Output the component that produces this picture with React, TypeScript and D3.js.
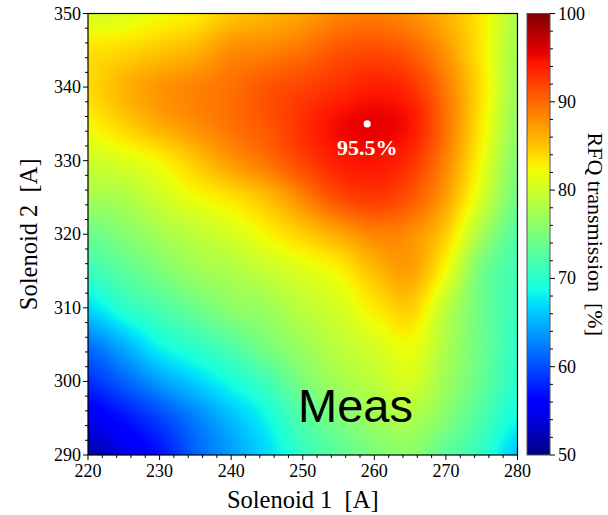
import React, { useMemo } from 'react';
import * as d3 from 'd3';

const solenoid1 = [220, 225, 230, 235, 240, 245, 250, 255, 260, 265, 270, 275, 280];
const solenoid2 = [350, 345, 340, 335, 330, 325, 320, 315, 310, 305, 300, 295, 290];
const transmission = [
  [80.5, 81, 82, 83, 85, 86, 87, 88.5, 89, 88, 86, 83, 78],
  [83.5, 84, 85, 86, 88, 88.5, 89.5, 91, 91.5, 90.5, 87.5, 83, 77.5],
  [84, 86, 87.5, 88.5, 89.5, 91, 92, 93, 94, 93, 89, 83.5, 77],
  [82.5, 84.5, 86.5, 88, 89.5, 91, 93, 95, 95.5, 94.5, 89.5, 83, 76.5],
  [80, 81, 82.5, 85, 87.5, 89.5, 92, 94, 94.5, 93, 88.5, 82, 75.5],
  [77.5, 78, 80, 82, 83.5, 85.5, 88.5, 91.5, 92.5, 91, 87, 80.5, 74.5],
  [74, 75.5, 77.5, 79, 80.5, 82.5, 84.5, 86.5, 88.5, 88, 84.5, 77.5, 72.5],
  [71, 73, 75, 77, 78, 79.5, 81, 82.5, 85.5, 87, 82, 74.5, 71.5],
  [67, 70, 72, 74, 76, 77, 79, 80.5, 83, 84.5, 79, 74, 71],
  [62, 65, 68.5, 70.5, 72.5, 75, 77, 79, 80.5, 82, 78, 74, 70.5],
  [58.5, 61, 64, 66.5, 69, 71.5, 75, 77.5, 79, 80.5, 77, 73.5, 70],
  [55, 57, 59.5, 62.5, 65.5, 68.5, 72.5, 75, 77, 78, 75.5, 72, 68.5],
  [52, 54.5, 57, 61, 64, 67, 70.5, 73, 75, 76, 73, 70.5, 66],
];

const xTicks = [220, 230, 240, 250, 260, 270, 280];
const yTicks = [290, 300, 310, 320, 330, 340, 350];
const cbTicks = [50, 60, 70, 80, 90, 100];
const peakS1 = 259;
const peakS2 = 335;
const peakLabel = '95.5%';

const W = 608;
const H = 515;
const plot = { left: 88, right: 517.5, top: 13.5, bottom: 455 };
const cb = { left: 527, right: 550 };

// matplotlib jet
const jetR = d3.scaleLinear().domain([0, 0.35, 0.66, 0.89, 1]).range([0, 0, 1, 1, 0.5]).clamp(true);
const jetG = d3.scaleLinear().domain([0, 0.125, 0.375, 0.64, 0.91, 1]).range([0, 0, 1, 1, 0, 0]).clamp(true);
const jetB = d3.scaleLinear().domain([0, 0.11, 0.34, 0.65, 1]).range([0.5, 1, 1, 0, 0]).clamp(true);
const jet = (t: number): [number, number, number] => [
  Math.round(255 * jetR(t)),
  Math.round(255 * jetG(t)),
  Math.round(255 * jetB(t)),
];

function cubic(p0: number, p1: number, p2: number, p3: number, t: number) {
  return (
    p1 +
    0.5 * t * (p2 - p0 + t * (2 * p0 - 5 * p1 + 4 * p2 - p3 + t * (3 * (p1 - p2) + p3 - p0)))
  );
}

function sample(fx: number, fy: number) {
  const nx = solenoid1.length;
  const ny = solenoid2.length;
  const ix = Math.min(Math.max(Math.floor(fx), 0), nx - 2);
  const iy = Math.min(Math.max(Math.floor(fy), 0), ny - 2);
  const tx = fx - ix;
  const ty = fy - iy;
  const g = (r: number, c: number) =>
    transmission[Math.min(Math.max(r, 0), ny - 1)][Math.min(Math.max(c, 0), nx - 1)];
  const rows = [-1, 0, 1, 2].map((dr) =>
    cubic(g(iy + dr, ix - 1), g(iy + dr, ix), g(iy + dr, ix + 1), g(iy + dr, ix + 2), tx)
  );
  return cubic(rows[0], rows[1], rows[2], rows[3], ty);
}

export default function App() {
  const x = d3.scaleLinear().domain([220, 280]).range([plot.left, plot.right]);
  const y = d3.scaleLinear().domain([290, 350]).range([plot.bottom, plot.top]);
  const c = d3.scaleLinear().domain([50, 100]).range([plot.bottom, plot.top]);
  const tNorm = d3.scaleLinear().domain([50, 100]).range([0, 1]).clamp(true);

  const heatUrl = useMemo(() => {
    const pw = Math.round(plot.right - plot.left);
    const ph = Math.round(plot.bottom - plot.top);
    const canvas = document.createElement('canvas');
    canvas.width = pw;
    canvas.height = ph;
    const ctx = canvas.getContext('2d');
    if (!ctx) return '';
    const img = ctx.createImageData(pw, ph);
    const s1Step = solenoid1[1] - solenoid1[0];
    const s2Step = solenoid2[0] - solenoid2[1];
    for (let j = 0; j < ph; j++) {
      const yv = y.invert(plot.top + ((j + 0.5) * (plot.bottom - plot.top)) / ph);
      const fy = (solenoid2[0] - yv) / s2Step;
      for (let i = 0; i < pw; i++) {
        const xv = x.invert(plot.left + ((i + 0.5) * (plot.right - plot.left)) / pw);
        const fx = (xv - solenoid1[0]) / s1Step;
        const v = sample(fx, fy);
        const [r, g, b] = jet(tNorm(v));
        const k = (j * pw + i) * 4;
        img.data[k] = r;
        img.data[k + 1] = g;
        img.data[k + 2] = b;
        img.data[k + 3] = 255;
      }
    }
    ctx.putImageData(img, 0, 0);
    return canvas.toDataURL();
  }, []);

  const cbStops = d3.range(0, 101).map((i) => {
    const [r, g, b] = jet(i / 100);
    return { off: i, col: `rgb(${r},${g},${b})` };
  });

  const xMinor = d3.range(220, 281, 2).filter((v) => v % 10 !== 0);
  const yMinor = d3.range(290, 351, 2).filter((v) => v % 10 !== 0);
  const cMinor = d3.range(50, 101, 2).filter((v) => v % 10 !== 0);

  const serif = '"Liberation Serif", "DejaVu Serif", serif';

  return (
    <svg
      width={W}
      height={H}
      style={{ position: 'absolute', left: 0, top: 0, background: '#fff' }}
      fontFamily={serif}
    >
      <defs>
        <linearGradient id="cbgrad" x1="0" y1="1" x2="0" y2="0">
          {cbStops.map((s) => (
            <stop key={s.off} offset={`${s.off}%`} stopColor={s.col} />
          ))}
        </linearGradient>
      </defs>
      <image
        href={heatUrl}
        x={plot.left}
        y={plot.top}
        width={plot.right - plot.left}
        height={plot.bottom - plot.top}
        preserveAspectRatio="none"
      />
      <rect
        x={plot.left}
        y={plot.top}
        width={plot.right - plot.left}
        height={plot.bottom - plot.top}
        fill="none"
        stroke="#000"
        strokeWidth={1.2}
      />
      {/* x ticks */}
      {xTicks.map((v) => (
        <g key={`xt${v}`}>
          <line x1={x(v)} x2={x(v)} y1={plot.bottom} y2={plot.bottom + 5} stroke="#000" />
          <text x={x(v)} y={plot.bottom + 22} textAnchor="middle" fontSize={18}>
            {v}
          </text>
        </g>
      ))}
      {xMinor.map((v) => (
        <line key={`xm${v}`} x1={x(v)} x2={x(v)} y1={plot.bottom} y2={plot.bottom + 3} stroke="#000" />
      ))}
      {/* y ticks */}
      {yTicks.map((v) => (
        <g key={`yt${v}`}>
          <line x1={plot.left - 5} x2={plot.left} y1={y(v)} y2={y(v)} stroke="#000" />
          <text x={plot.left - 7} y={y(v) + 6} textAnchor="end" fontSize={18}>
            {v}
          </text>
        </g>
      ))}
      {yMinor.map((v) => (
        <line key={`ym${v}`} x1={plot.left - 3} x2={plot.left} y1={y(v)} y2={y(v)} stroke="#000" />
      ))}
      {/* axis labels */}
      <text x={(plot.left + plot.right) / 2} y={508} textAnchor="middle" fontSize={24.5} style={{ whiteSpace: 'pre' }}>
        {'Solenoid 1  [A]'}
      </text>
      <text
        transform={`translate(37,${(plot.top + plot.bottom) / 2}) rotate(-90)`}
        textAnchor="middle"
        fontSize={24.5}
        style={{ whiteSpace: 'pre' }}
      >
        {'Solenoid 2  [A]'}
      </text>
      {/* peak */}
      <circle cx={x(peakS1)} cy={y(peakS2)} r={3.6} fill="#fff" />
      <text x={x(peakS1)} y={y(peakS2) + 31} textAnchor="middle" fontSize={22} fontWeight="bold" fill="#fff">
        {peakLabel}
      </text>
      {/* Meas */}
      <text x={298} y={422} fontSize={47} fontFamily='"Liberation Sans", Arial, sans-serif' fill="#000">
        Meas
      </text>
      {/* colorbar */}
      <rect
        x={cb.left}
        y={plot.top}
        width={cb.right - cb.left}
        height={plot.bottom - plot.top}
        fill="url(#cbgrad)"
        stroke="#555"
        strokeWidth={1}
      />
      {cbTicks.map((v) => (
        <g key={`ct${v}`}>
          <line x1={cb.right} x2={cb.right + 5} y1={c(v)} y2={c(v)} stroke="#000" />
          <text x={cb.right + 8} y={c(v) + 6} fontSize={18}>
            {v}
          </text>
        </g>
      ))}
      {cMinor.map((v) => (
        <line key={`cm${v}`} x1={cb.right} x2={cb.right + 3} y1={c(v)} y2={c(v)} stroke="#000" />
      ))}
      <text
        transform={`translate(588,${(plot.top + plot.bottom) / 2}) rotate(90)`}
        textAnchor="middle"
        fontSize={22}
        style={{ whiteSpace: 'pre' }}
      >
        {'RFQ transmission  [%]'}
      </text>
    </svg>
  );
}
